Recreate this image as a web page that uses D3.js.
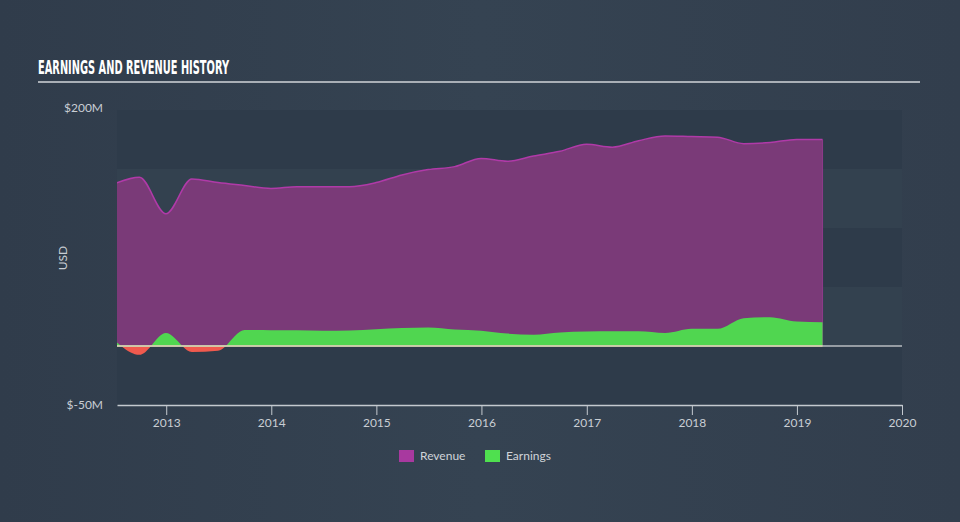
<!DOCTYPE html>
<html><head><meta charset="utf-8">
<script src="https://cdn.jsdelivr.net/npm/d3@7"></script>
<style>
html,body{margin:0;padding:0;background:#333f4e;}
svg{display:block;}
</style></head>
<body>
<svg id="c" width="960" height="522"></svg>
<script>
// ---- data (quarter ends, USD millions) ----
const dates = ["2012-06-30","2012-09-30","2012-12-31","2013-03-31","2013-06-30","2013-09-30","2013-12-31",
 "2014-03-31","2014-06-30","2014-09-30","2014-12-31","2015-03-31","2015-06-30","2015-09-30","2015-12-31",
 "2016-03-31","2016-06-30","2016-09-30","2016-12-31","2017-03-31","2017-06-30","2017-09-30","2017-12-31",
 "2018-03-31","2018-06-30","2018-09-30","2018-12-31","2019-03-31"];
const revenue = [137,143,112,141.5,138.5,136,133.5,135,135,135,138.5,145,149.5,152,159,156.5,161,165,171,168.5,174,178,177.5,177,171.5,172.5,175,175];
const earnings = [6,-7.5,11,-5,-4,13.5,13.4,13.4,12.9,13.2,14.3,15.2,15.7,14,12.9,10.5,9.6,11.5,12.2,12.4,12.4,11,14.6,14.6,23.6,24.4,20.7,20.2];
const yTicks = [200,-50];
const yBands = [200,150,100,50,0,-50];
const xTickYears = [2013,2014,2015,2016,2017,2018,2019,2020];
const seriesNames = ["Revenue","Earnings"];
const seriesColors = ["#a8399f","#4fe04f"];

const parse = d3.timeParse("%Y-%m-%d");
const rows = dates.map((d,i)=>({date:parse(d),rev:revenue[i],earn:earnings[i]}));

const svg = d3.select("#c");
const W=960,H=522;
const L=117,R=902,T=110,B=405;

// background gradient
const defs = svg.append("defs");
const bg = defs.append("linearGradient").attr("id","bg").attr("x1","0").attr("y1","0").attr("x2","1").attr("y2","0");
bg.append("stop").attr("offset","0").attr("stop-color","#303c4b");
bg.append("stop").attr("offset","0.5").attr("stop-color","#354352");
bg.append("stop").attr("offset","1").attr("stop-color","#323e4d");
svg.append("rect").attr("width",W).attr("height",H).attr("fill","url(#bg)");

const x = d3.scaleTime().domain([new Date(2012,6,14), new Date(2020,0,1)]).range([L,R]);
const y = d3.scaleLinear().domain([-50,200]).range([B,T]);

// plot bands
const bandPairs = d3.pairs(yBands);
svg.append("g").selectAll("rect").data(bandPairs).join("rect")
  .attr("x",L).attr("width",R-L)
  .attr("y",d=>y(d[0])).attr("height",d=>y(d[1])-y(d[0]))
  .attr("fill",(d,i)=> i%2===0 ? "#2e3b4a" : "#33414f");

defs.append("clipPath").attr("id","plot").append("rect").attr("x",L).attr("y",T-5).attr("width",R-L).attr("height",B-T+5);
defs.append("clipPath").attr("id","above").append("rect").attr("x",L).attr("y",0).attr("width",R-L).attr("height",y(0));
defs.append("clipPath").attr("id","below").append("rect").attr("x",L).attr("y",y(0)).attr("width",R-L).attr("height",H-y(0));

const curve = d3.curveMonotoneX;
const g = svg.append("g").attr("clip-path","url(#plot)");

// revenue
g.append("path").datum(rows)
  .attr("d", d3.area().x(d=>x(d.date)).y0(y(0)).y1(d=>y(d.rev)).curve(curve))
  .attr("fill","#7a3a78");
g.append("path").datum(rows)
  .attr("d", d3.line().x(d=>x(d.date)).y(d=>y(d.rev)).curve(curve))
  .attr("fill","none").attr("stroke","#b03aa8").attr("stroke-width",1.5);
// right edge of revenue
const last = rows[rows.length-1];
g.append("line").attr("x1",x(last.date)).attr("x2",x(last.date)).attr("y1",y(last.rev)).attr("y2",y(0))
  .attr("stroke","#8e3a8a").attr("stroke-width",1);

// earnings
const earnArea = d3.area().x(d=>x(d.date)).y0(y(0)).y1(d=>y(d.earn)).curve(curve);
g.append("g").attr("clip-path","url(#above)").append("path").datum(rows).attr("d",earnArea).attr("fill","#50d650");
g.append("g").attr("clip-path","url(#below)").append("path").datum(rows).attr("d",earnArea).attr("fill","#f05a4e");

// zero line
svg.append("line").attr("x1",L).attr("x2",R).attr("y1",y(0)).attr("y2",y(0))
  .attr("stroke","#b9bcc0").attr("stroke-width",1.5);
svg.append("line").attr("x1",L).attr("x2",x(last.date)).attr("y1",y(0)).attr("y2",y(0))
  .attr("stroke","#d6d3a8").attr("stroke-width",1.5);

// x axis
const xAxis = d3.axisBottom(x)
  .tickValues(xTickYears.map(yy=>new Date(yy,0,1)))
  .tickFormat(d3.timeFormat("%Y")).tickSize(10).tickSizeOuter(0).tickPadding(3);
const ax = svg.append("g").attr("transform",`translate(0,${B})`).call(xAxis);
ax.select(".domain").attr("stroke","#c4c9cf").attr("stroke-width",1.5);
ax.selectAll(".tick line").attr("stroke","#c4c9cf").attr("stroke-width",1);
ax.selectAll(".tick text").attr("fill","#c9ced4").attr("font-family","Lato, 'Open Sans', sans-serif").attr("font-size",12);

// y labels
svg.append("g").selectAll("text").data(yTicks).join("text")
  .attr("x",103).attr("y",d=>y(d)+ (d===200?-2:0)).attr("dy","0.35em").attr("text-anchor","end")
  .attr("fill","#c9ced4").attr("font-family","Lato, 'Open Sans', sans-serif").attr("font-size",12)
  .text(d=> d<0 ? `$-${Math.abs(d)}M` : `$${d}M`);
svg.append("text").attr("transform","translate(67,258) rotate(-90)").attr("text-anchor","middle")
  .attr("fill","#c9ced4").attr("font-family","Lato, 'Open Sans', sans-serif").attr("font-size",12).text("USD");

// title
svg.append("text").attr("x",38).attr("y",74).attr("fill","#ffffff")
  .attr("font-family","'Liberation Sans Narrow','DejaVu Sans Condensed',sans-serif").attr("font-weight","bold")
  .attr("font-size",19).attr("textLength",191).attr("lengthAdjust","spacingAndGlyphs")
  .text("EARNINGS AND REVENUE HISTORY");
svg.append("line").attr("x1",38).attr("x2",920).attr("y1",82).attr("y2",82).attr("stroke","#a9afb6").attr("stroke-width",2);

// legend
const legX=[399,485];
const lg = svg.append("g").selectAll("g").data(seriesNames).join("g").attr("transform",(d,i)=>`translate(${legX[i]},450)`);
lg.append("rect").attr("width",15).attr("height",12).attr("fill",(d,i)=>seriesColors[i]);
lg.append("text").attr("x",21).attr("y",6).attr("dy","0.35em").attr("fill","#d0d4d9")
  .attr("font-family","Lato, 'Open Sans', sans-serif").attr("font-size",12).text(d=>d);
</script>
</body></html>
